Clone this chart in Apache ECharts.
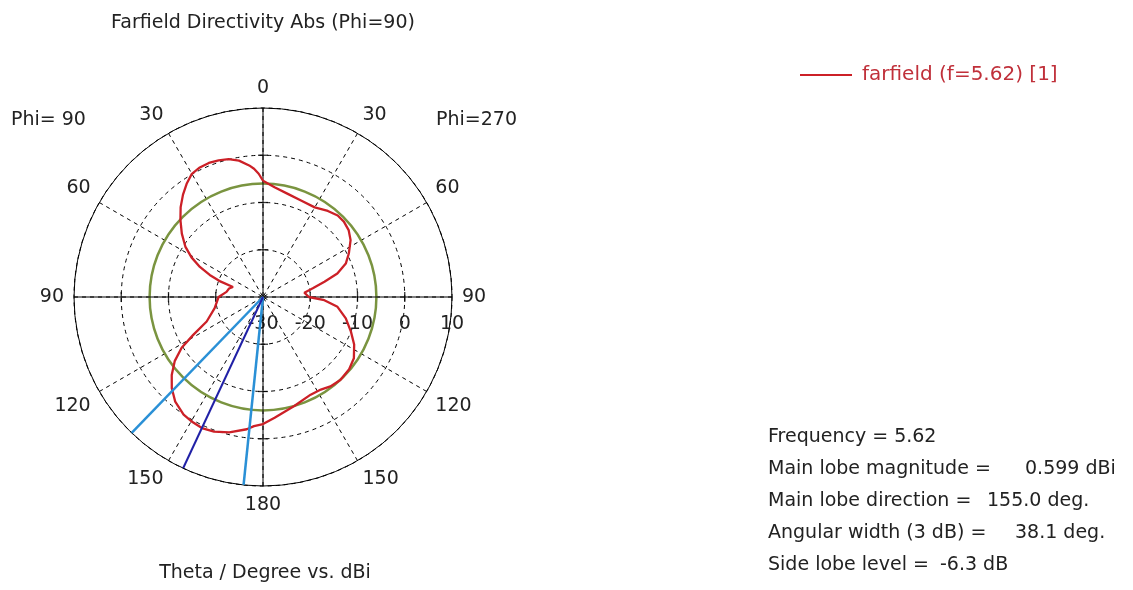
<!DOCTYPE html>
<html>
<head>
<meta charset="utf-8">
<script src="https://cdn.jsdelivr.net/npm/echarts@6/dist/echarts.min.js"></script>
<style>
html,body{margin:0;padding:0;background:#fff;}
#chart{width:1133px;height:590px;}
</style>
</head>
<body>
<div id="chart"></div>
<script>
// ---------- DATA ----------
// Phi = 90 half (left side of the plot), theta in degrees, directivity in dBi
const thetaPhi90 = [0, 2, 4, 6, 10, 14, 18, 22, 26, 30, 34, 38, 42.5, 47, 52, 57, 61, 64.5, 67.5, 70, 71.5, 76, 82, 90, 103, 113.5, 118.5, 122, 126, 130.5, 135, 140, 146, 150, 155, 160, 166, 173, 176, 180];
const valuePhi90 = [-5.4, -3.9, -2.8, -2.0, -0.7, 0.05, 0.4, 0.6, 0.5, 0.1, -1.1, -2.5, -4.2, -6.1, -8.2, -10.4, -12.7, -15.2, -17.8, -20.5, -23.3, -22.6, -22.2, -20.6, -19.5, -17.0, -13.2, -9.7, -6.9, -4.6, -2.7, -1.1, 0.05, 0.35, 0.6, 0.3, -0.45, -1.8, -2.6, -3.1];
// Phi = 270 half (right side of the plot)
const thetaPhi270 = [0, 6, 13.5, 21.5, 30, 37, 42.5, 47, 52, 57, 63, 68, 72.5, 76, 80, 84, 90, 93, 97.5, 104.5, 111.5, 117.5, 124, 130, 137, 143, 148, 154, 164, 174.5, 180];
const valuePhi270 = [-5.4, -6.65, -7.55, -8.05, -8.1, -7.2, -6.6, -6.6, -7.0, -7.9, -9.6, -11.1, -13.5, -16.6, -19.3, -21.2, -20.3, -17.0, -14.1, -11.9, -10.0, -8.25, -6.8, -6.2, -6.0, -6.3, -6.9, -7.0, -6.0, -4.35, -3.1];

const radiusTicks = [-30, -20, -10, 0, 10];
const angleTickLabels = ['90', '60', '30', '0', '30', '60', '90', '120', '150', '180', '150', '120'];
const greenLevel = -6.0;                 // reference circle (dBi)
const mainLobeTheta = 155.0;             // deg, Phi=90 side
const beamEdgesTheta = [136.0, 174.1];   // 3 dB beam edges
const seriesName = 'farfield (f=5.62) [1]';
const infoLabels = ['Frequency = 5.62', 'Main lobe magnitude =', 'Main lobe direction =', 'Angular width (3 dB) =', 'Side lobe level ='];
const infoValues = ['', '0.599 dBi', '155.0 deg.', '38.1 deg.', '-6.3 dB'];

// ---------- LAYOUT ----------
const CX = 263, CY = 297, R = 189;
const FONT = 'DejaVu Sans';
const FS = 19;
const infoValueX = [0, 1025, 987, 1015, 940];
const infoY = [437, 469, 501, 533, 565];

// convert theta on each half to angle-axis value (counter-clockwise from +x)
const angL = t => 90 + t;
const angR = t => (90 - t + 360) % 360;

const redData = [];
thetaPhi90.forEach((t, i) => redData.push([valuePhi90[i], angL(t)]));
for (let i = thetaPhi270.length - 1; i >= 0; i--) redData.push([valuePhi270[i], angR(thetaPhi270[i])]);

const rMin = radiusTicks[0], rMax = radiusTicks[radiusTicks.length - 1];

const tickPts = [];
radiusTicks.slice(1, -1).forEach(v => {
  [0, 180].forEach(a => tickPts.push({value: [v, a], symbolSize: [1.3, 10]}));
  [90, 270].forEach(a => tickPts.push({value: [v, a], symbolSize: [10, 1.3]}));
});

const graphics = [
  {type: 'text', x: CX, y: 23, style: {text: 'Farfield Directivity Abs (Phi=90)', align: 'center', verticalAlign: 'middle', font: FS + 'px "' + FONT + '"', fill: '#222'}},
  {type: 'text', x: 11, y: 120, style: {text: 'Phi= 90', align: 'left', verticalAlign: 'middle', font: FS + 'px "' + FONT + '"', fill: '#222'}},
  {type: 'text', x: 517, y: 120, style: {text: 'Phi=270', align: 'right', verticalAlign: 'middle', font: FS + 'px "' + FONT + '"', fill: '#222'}},
  {type: 'text', x: CX + 2, y: 573, style: {text: 'Theta / Degree vs. dBi', align: 'center', verticalAlign: 'middle', font: FS + 'px "' + FONT + '"', fill: '#222'}}
];
infoLabels.forEach((s, i) => {
  graphics.push({type: 'text', x: 768, y: infoY[i], style: {text: s, align: 'left', verticalAlign: 'middle', font: FS + 'px "' + FONT + '"', fill: '#222'}});
  if (infoValues[i]) graphics.push({type: 'text', x: infoValueX[i], y: infoY[i], style: {text: infoValues[i], align: 'left', verticalAlign: 'middle', font: FS + 'px "' + FONT + '"', fill: '#222'}});
});

const chart = echarts.init(document.getElementById('chart'), null, {renderer: 'canvas'});
chart.setOption({
  backgroundColor: '#fff',
  animation: false,
  textStyle: {fontFamily: FONT},
  legend: {
    data: [seriesName], left: 795, top: 60, icon: 'rect', itemWidth: 52, itemHeight: 2,
    textStyle: {color: '#c0303a', fontSize: 20, fontFamily: FONT, padding: [0, 0, 0, 5]}
  },
  polar: {center: [CX, CY], radius: R},
  angleAxis: {
    type: 'value', min: 0, max: 360, interval: 30, startAngle: 0, clockwise: false,
    axisLine: {show: true, lineStyle: {color: '#000', width: 1}},
    axisTick: {show: false},
    splitLine: {show: true, lineStyle: {color: '#000', type: [4, 4], width: 1}},
    axisLabel: {
      show: true, margin: 10, fontSize: FS, fontFamily: FONT, color: '#222',
      formatter: v => (v >= 360 ? '' : angleTickLabels[Math.round(v / 30) % 12])
    }
  },
  radiusAxis: {
    type: 'value', min: rMin, max: rMax, interval: 10,
    axisLine: {show: false}, axisTick: {show: false},
    splitLine: {show: true, lineStyle: {color: '#000', type: [4, 4], width: 1}},
    axisLabel: {show: true, margin: -27, verticalAlign: 'middle', fontSize: FS, fontFamily: FONT, color: '#222'}
  },
  graphic: graphics,
  series: [
    {type: 'line', coordinateSystem: 'polar', silent: true, symbol: 'none', lineStyle: {color: '#000', width: 1},
     data: [[rMax, 90], [rMin, 90], [rMax, 270]]},
    {type: 'line', coordinateSystem: 'polar', silent: true, symbol: 'none', lineStyle: {color: '#000', width: 1},
     data: [[rMax, 0], [rMin, 0], [rMax, 180]]},
    {type: 'scatter', coordinateSystem: 'polar', silent: true, symbol: 'rect', itemStyle: {color: '#000'}, data: tickPts},
    {type: 'custom', coordinateSystem: 'polar', silent: true, data: [[greenLevel, 0]],
     renderItem: (params, api) => {
       const c = api.coord([rMin, 0]);
       const p = api.coord([api.value(0), 0]);
       const r = Math.hypot(p[0] - c[0], p[1] - c[1]);
       return {type: 'circle', shape: {cx: c[0], cy: c[1], r: r}, style: {fill: 'none', stroke: '#7a9440', lineWidth: 2.5}};
     }},
    {name: seriesName, type: 'line', coordinateSystem: 'polar', symbol: 'none', smooth: false,
     lineStyle: {color: '#cc2027', width: 2.3}, itemStyle: {color: '#cc2027'}, data: redData},
    {type: 'line', coordinateSystem: 'polar', silent: true, symbol: 'none', lineStyle: {color: '#2a90d6', width: 2.5},
     data: [[rMax, angL(beamEdgesTheta[0])], [rMin, angL(beamEdgesTheta[0])]]},
    {type: 'line', coordinateSystem: 'polar', silent: true, symbol: 'none', lineStyle: {color: '#2a90d6', width: 2.5},
     data: [[rMax, angL(beamEdgesTheta[1])], [rMin, angL(beamEdgesTheta[1])]]},
    {type: 'line', coordinateSystem: 'polar', silent: true, symbol: 'none', lineStyle: {color: '#2020a6', width: 2},
     data: [[rMax, angL(mainLobeTheta)], [rMin, angL(mainLobeTheta)]]}
  ]
});
</script>
</body>
</html>
